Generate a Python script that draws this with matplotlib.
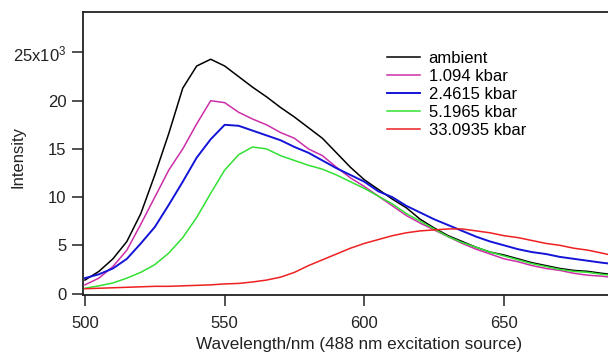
import matplotlib
matplotlib.use("Agg")
import matplotlib.pyplot as plt

plt.rcParams['font.family'] = ['Liberation Sans', 'DejaVu Sans']
plt.rcParams['mathtext.fontset'] = 'custom'
plt.rcParams['mathtext.rm'] = 'Liberation Sans'
plt.rcParams['mathtext.it'] = 'Liberation Sans'
plt.rcParams['mathtext.default'] = 'regular'

wavelength = [500, 505, 510, 515, 520, 525, 530, 535, 540, 545, 550, 555, 560, 565,
              570, 575, 580, 585, 590, 595, 600, 605, 610, 615, 620, 625, 630, 635,
              640, 645, 650, 655, 660, 665, 670, 675, 680, 685, 688]

ambient = [1.4, 2.3, 3.6, 5.4, 8.3, 12.3, 16.6, 21.3, 23.6, 24.3, 23.6, 22.5, 21.4, 20.4,
           19.3, 18.3, 17.2, 16.1, 14.6, 13.1, 11.8, 10.8, 9.8, 8.9, 7.7, 6.8, 6.0, 5.4,
           4.8, 4.3, 4.0, 3.6, 3.2, 2.9, 2.6, 2.4, 2.3, 2.1, 2.0]
p1094 = [0.9, 1.6, 2.8, 4.5, 7.2, 10.0, 12.8, 15.0, 17.6, 20.0, 19.8, 18.8, 18.1, 17.5,
         16.7, 16.1, 15.0, 14.3, 13.1, 12.0, 11.1, 10.1, 9.1, 8.1, 7.3, 6.6, 5.9, 5.2,
         4.6, 4.1, 3.6, 3.3, 2.9, 2.6, 2.4, 2.1, 1.9, 1.8, 1.7]
p24615 = [1.6, 2.0, 2.6, 3.6, 5.2, 6.9, 9.2, 11.6, 14.1, 16.0, 17.5, 17.4, 16.9, 16.4,
          15.9, 15.2, 14.6, 13.8, 13.0, 12.3, 11.6, 10.6, 10.0, 9.1, 8.4, 7.7, 7.1, 6.5,
          5.9, 5.4, 5.0, 4.6, 4.3, 4.1, 3.8, 3.6, 3.4, 3.2, 3.1]
p51965 = [0.55, 0.8, 1.1, 1.6, 2.2, 3.0, 4.2, 5.8, 7.9, 10.4, 12.8, 14.4, 15.2, 15.0,
          14.3, 13.8, 13.3, 12.9, 12.3, 11.6, 10.9, 10.1, 9.3, 8.3, 7.5, 6.7, 5.9, 5.3,
          4.8, 4.3, 3.9, 3.5, 3.1, 2.8, 2.5, 2.3, 2.2, 2.0, 1.9]
p330935 = [0.5, 0.55, 0.6, 0.65, 0.7, 0.75, 0.75, 0.8, 0.85, 0.9, 1.0, 1.05, 1.2, 1.4,
           1.7, 2.2, 2.9, 3.5, 4.1, 4.7, 5.2, 5.6, 6.0, 6.3, 6.5, 6.6, 6.7, 6.7,
           6.5, 6.3, 6.0, 5.8, 5.5, 5.2, 5.0, 4.7, 4.5, 4.2, 4.0]

labels = ['ambient', '1.094 kbar', '2.4615 kbar', '5.1965 kbar', '33.0935 kbar']
colors = ['#000000', '#cc2fa8', '#1414d8', '#33e033', '#ee2020']
series = [ambient, p1094, p24615, p51965, p330935]

ytick_vals = [0, 5, 10, 15, 20, 25]
ytick_labels = ['0', '5', '10', '15', '20', '25x10$^{3}$']
xtick_vals = [500, 550, 600, 650]

W, H = 608, 356
fig = plt.figure(figsize=(W / 100, H / 100), dpi=100)
ax = fig.add_axes([83 / W, (H - 295) / H, (W - 83) / W, (295 - 12) / H])

for vals, c, lab in zip(series, colors, labels):
    lw = 1.4 if c == '#1414d8' else 1.1
    ax.plot(wavelength, vals, color=c, lw=lw, label=lab)

ax.set_xlim(499.3, 687.2)
ax.set_ylim(-0.15, 29.2)
ax.set_xticks(xtick_vals)
ax.set_xticklabels([str(v) for v in xtick_vals])
ax.set_yticks(ytick_vals)
ax.set_yticklabels(ytick_labels)
ax.tick_params(direction='out', length=8, width=1.1, labelsize=12, colors='#222222')
ax.tick_params(axis='x', pad=7)
ax.tick_params(axis='y', pad=4)
for s in ['left', 'bottom', 'top']:
    ax.spines[s].set_linewidth(1.3)
    ax.spines[s].set_color('#222222')
ax.spines['right'].set_visible(False)

ax.set_xlabel('Wavelength/nm (488 nm excitation source)', fontsize=12.3, color='#222222')
ax.xaxis.set_label_coords((359 - 83) / 525, (295 - 345) / 283)
ax.xaxis.label.set_va('center')
ax.set_ylabel('Intensity', fontsize=12, color='#222222')
ax.yaxis.set_label_coords((18 - 83) / 525, (295 - 157) / 283)
ax.yaxis.label.set_va('center')

leg = ax.legend(loc='upper left', bbox_to_anchor=(387 / W, 1 - 51 / H),
                bbox_transform=fig.transFigure, frameon=False, fontsize=12,
                handlelength=2.0, handletextpad=0.5, labelspacing=0.18,
                borderaxespad=0, borderpad=0)

fig.savefig('out.png', dpi=100)
